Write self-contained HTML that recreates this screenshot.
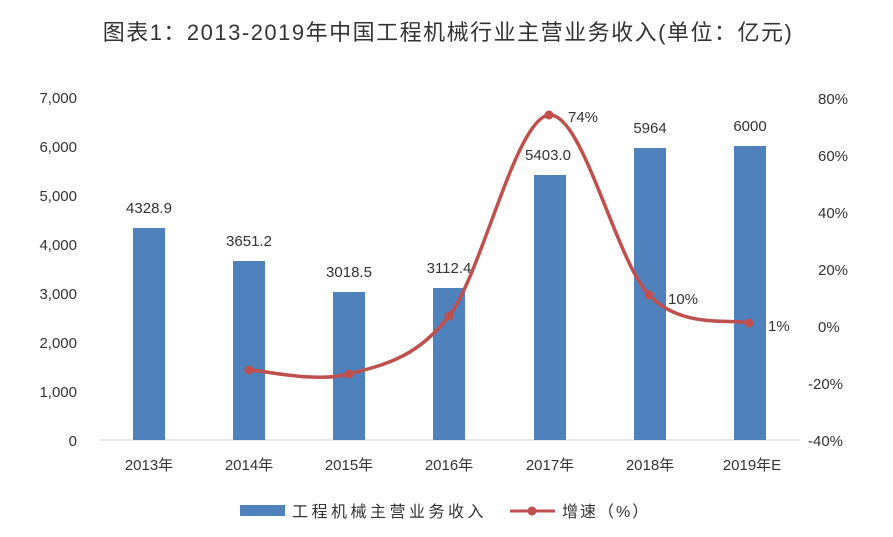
<!DOCTYPE html>
<html><head><meta charset="utf-8"><style>
html,body{margin:0;padding:0;background:#fff;}
svg{display:block;font-family:"Liberation Sans","Noto Sans CJK SC",sans-serif;}
</style></head><body>
<svg width="893" height="537" viewBox="0 0 893 537" xmlns="http://www.w3.org/2000/svg">
<rect width="893" height="537" fill="#fff"/>
<text x="448" y="40" font-size="22" text-anchor="middle" fill="#333" letter-spacing="1.5">图表1：2013-2019年中国工程机械行业主营业务收入(单位：亿元)</text>
<g font-size="15" fill="#333" text-anchor="end">
<text x="77" y="103">7,000</text><text x="77" y="152">6,000</text><text x="77" y="201">5,000</text>
<text x="77" y="250">4,000</text><text x="77" y="299">3,000</text><text x="77" y="348">2,000</text>
<text x="77" y="397">1,000</text><text x="77" y="446">0</text>
</g>
<g font-size="15" fill="#333">
<text x="818" y="104">80%</text><text x="818" y="161">60%</text><text x="818" y="218">40%</text>
<text x="818" y="275">20%</text><text x="818" y="332">0%</text><text x="808" y="389">-20%</text>
<text x="808" y="446">-40%</text>
</g>
<line x1="100" y1="440" x2="800" y2="440" stroke="#d0d0d0" stroke-width="1"/>
<g fill="#4f81bd">
<rect x="133" y="228" width="32" height="212"/>
<rect x="233" y="261" width="32" height="179"/>
<rect x="333" y="292" width="32" height="148"/>
<rect x="433" y="288" width="32" height="152"/>
<rect x="534" y="175" width="32" height="265"/>
<rect x="634" y="148" width="32" height="292"/>
<rect x="734" y="146" width="32" height="294"/>
</g>
<g font-size="15" fill="#333" text-anchor="middle">
<text x="149" y="213">4328.9</text><text x="249" y="246">3651.2</text><text x="349" y="277">3018.5</text>
<text x="449" y="273">3112.4</text><text x="548" y="160">5403.0</text><text x="650" y="133">5964</text>
<text x="750" y="131">6000</text>
</g>
<path d="M249,370 C265.7,370.7 315.7,383 349,374 C382.3,365 415.7,359.2 449,316 C482.3,272.8 515.7,118.5 549,115 C582.3,111.5 615.7,260.3 649,295 C682.3,329.7 732.3,318.3 749,323" fill="none" stroke="#c0504d" stroke-width="3.5"/>
<g fill="#c0504d">
<circle cx="249" cy="370" r="4.5"/><circle cx="349" cy="374" r="4.5"/><circle cx="449" cy="316" r="4.5"/>
<circle cx="549" cy="115" r="4.5"/><circle cx="649" cy="295" r="4.5"/><circle cx="749" cy="323" r="4.5"/>
</g>
<g font-size="15" fill="#333">
<text x="568" y="122">74%</text><text x="668" y="304">10%</text><text x="768" y="331">1%</text>
</g>
<g font-size="15" fill="#333" text-anchor="middle">
<text x="149" y="470">2013年</text><text x="249" y="470">2014年</text><text x="349" y="470">2015年</text>
<text x="449" y="470">2016年</text><text x="550" y="470">2017年</text><text x="650" y="470">2018年</text>
<text x="752" y="470">2019年E</text>
</g>
<rect x="240" y="505" width="45" height="11" fill="#4f81bd"/>
<text x="292" y="517" font-size="16" fill="#333" letter-spacing="3.5">工程机械主营业务收入</text>
<line x1="510" y1="511" x2="555" y2="511" stroke="#c0504d" stroke-width="3"/>
<circle cx="532" cy="511" r="4.5" fill="#c0504d"/>
<text x="562" y="517" font-size="16" fill="#333" letter-spacing="2">增速（%）</text>
</svg>
</body></html>
